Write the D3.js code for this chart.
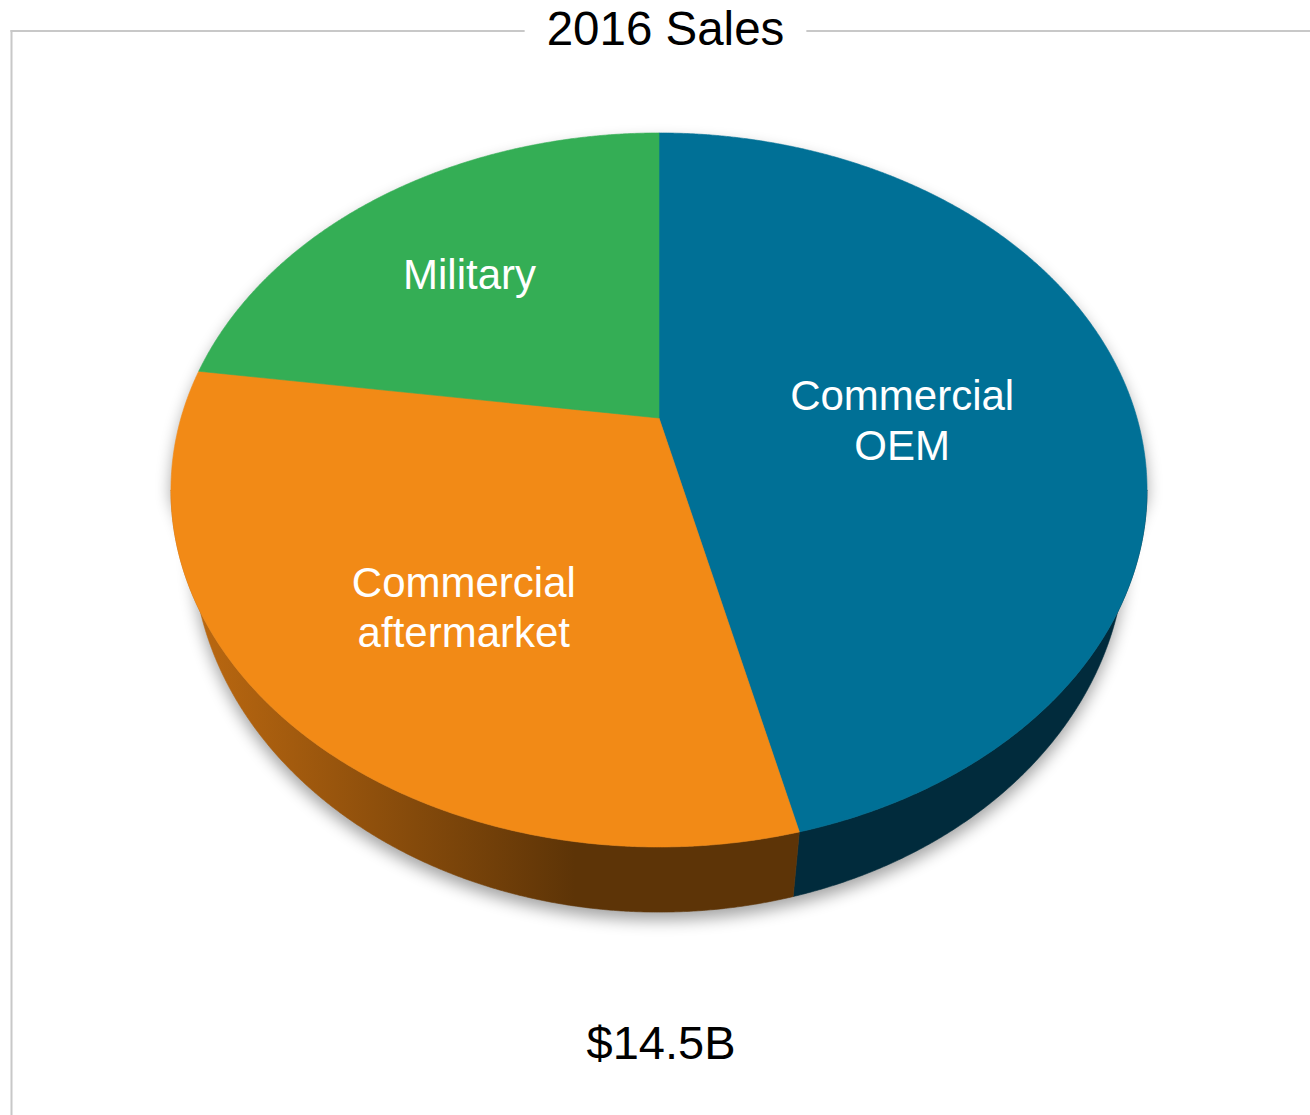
<!DOCTYPE html>
<html>
<head>
<meta charset="utf-8">
<script src="https://cdn.jsdelivr.net/npm/d3@7"></script>
<style>
  html, body { margin: 0; padding: 0; background: #ffffff; }
  svg { display: block; font-family: "Liberation Sans", Arial, sans-serif; }
</style>
</head>
<body>
<svg id="chart" width="1310" height="1115"></svg>
<script>
// ---- data ($B) ----
const categories = ["Commercial OEM", "Commercial aftermarket", "Military"];
const values = [6.7, 4.5, 3.3];
const labelLines = [["Commercial", "OEM"], ["Commercial", "aftermarket"], ["Military"]];
const topColors = ["#007096", "#f28a16", "#34ae55"];
const sideColors = ["#012b3c", "url(#orangeSide)", "#1d6b33"];
const titleText = "2016 Sales";
const totalText = "$14.5B";

// ---- layout ----
const W = 1310, H = 1115;
const cx = 659, cy = 418;      // projected centre of the pie's top face
const A = 478, B = 342.5;       // horizontal / vertical radius factors
const k = 0.2016;               // perspective strength
const depth = 52;               // thickness of the pie
const shrink = 0.956;           // bottom rim is farther away -> narrower
const labelNudge = [[16, -44], [-13, 0], [-9, -12]];

const svg = d3.select("#chart");
const defs = svg.append("defs");

const grad = defs.append("linearGradient")
  .attr("id", "orangeSide").attr("gradientUnits", "userSpaceOnUse")
  .attr("x1", 175).attr("y1", 0).attr("x2", 575).attr("y2", 0);
grad.append("stop").attr("offset", 0).attr("stop-color", "#c06b11");
grad.append("stop").attr("offset", 1).attr("stop-color", "#5d3407");

const blur = defs.append("filter").attr("id", "shadowBlur")
  .attr("x", "-20%").attr("y", "-20%").attr("width", "140%").attr("height", "140%");
blur.append("feGaussianBlur").attr("stdDeviation", 8);

function P(theta, r = 1, drop = 0) {
  const u = r * Math.sin(theta), v = -r * Math.cos(theta);
  const s = 1 / (1 - k * v);
  const f = drop ? shrink : 1;
  return [cx + A * u * s * f, cy + (B * v + drop) * s];
}
function arcPts(a0, a1, drop) {
  const n = Math.max(2, Math.ceil(Math.abs(a1 - a0) / (Math.PI / 720)));
  return d3.range(n + 1).map(i => P(a0 + (a1 - a0) * i / n, 1, drop));
}
const line = d3.line().curve(d3.curveLinearClosed);

const pie = d3.pie().sort(null).value(d => d.value);
const arcs = pie(categories.map((c, i) => ({ name: c, value: values[i], idx: i })));

const thR = Math.acos(-k);          // right silhouette angle
const thL = 2 * Math.PI - thR;      // left silhouette angle

// ---- shadow ----
const outline = arcPts(thL, thR + 2 * Math.PI, 0).concat(arcPts(thR, thL, depth));
svg.append("path")
  .attr("d", line(outline))
  .attr("transform", "translate(0,8)")
  .attr("fill", "#000").attr("opacity", 0.36)
  .attr("filter", "url(#shadowBlur)");

// ---- side walls ----
arcs.forEach(a => {
  const s0 = Math.max(a.startAngle, thR), s1 = Math.min(a.endAngle, thL);
  if (s1 <= s0) return;
  const pts = arcPts(s0, s1, 0).concat(arcPts(s0, s1, depth).reverse());
  svg.append("path").attr("d", line(pts))
    .attr("fill", sideColors[a.data.idx])
    .attr("stroke", sideColors[a.data.idx]).attr("stroke-width", 0.6);
});

// ---- top faces ----
arcs.forEach(a => {
  const pts = [P(0, 0)].concat(arcPts(a.startAngle, a.endAngle, 0));
  svg.append("path").attr("d", line(pts))
    .attr("fill", topColors[a.data.idx])
    .attr("stroke", topColors[a.data.idx]).attr("stroke-width", 0.6);
});

// ---- labels ----
const fs = 42, lh = 50;
arcs.forEach(a => {
  const pts = [P(0, 0)].concat(arcPts(a.startAngle, a.endAngle, 0));
  const c = d3.polygonCentroid(pts);
  const nx = c[0] + labelNudge[a.data.idx][0];
  const ny = c[1] + labelNudge[a.data.idx][1];
  const lines = labelLines[a.data.idx];
  const t = svg.append("text")
    .attr("text-anchor", "middle")
    .attr("fill", "#ffffff")
    .attr("font-size", fs);
  const y0 = ny - (lines.length - 1) * lh / 2 + fs * 0.36;
  lines.forEach((l, i) => {
    t.append("tspan").attr("x", nx).attr("y", y0 + i * lh).text(l);
  });
});

// ---- frame & title ----
const frameColor = "#c8c8c8";
const title = svg.append("text")
  .attr("x", 665.5).attr("y", 45)
  .attr("text-anchor", "middle").attr("font-size", 47.5).attr("fill", "#000")
  .text(titleText);
const tw = title.node().getComputedTextLength();
const gap = 22;
svg.append("line").attr("x1", 10.5).attr("x2", 665.5 - tw / 2 - gap)
  .attr("y1", 31).attr("y2", 31).attr("stroke", frameColor).attr("stroke-width", 2);
svg.append("line").attr("x1", 665.5 + tw / 2 + gap).attr("x2", W)
  .attr("y1", 31).attr("y2", 31).attr("stroke", frameColor).attr("stroke-width", 2);
svg.append("line").attr("x1", 11.5).attr("x2", 11.5)
  .attr("y1", 30).attr("y2", H).attr("stroke", frameColor).attr("stroke-width", 2);

svg.append("text")
  .attr("x", 661).attr("y", 1059)
  .attr("text-anchor", "middle").attr("font-size", 47).attr("fill", "#000")
  .text(totalText);
</script>
</body>
</html>
